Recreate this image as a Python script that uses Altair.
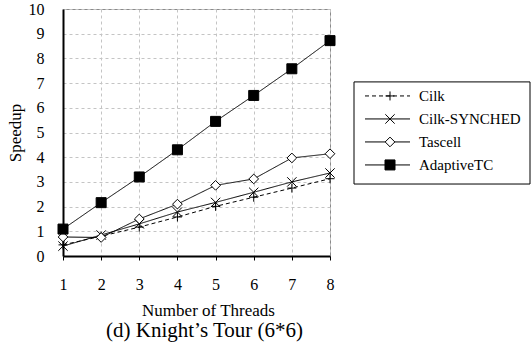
import altair as alt
import pandas as pd

# ---- data ----
threads = [1, 2, 3, 4, 5, 6, 7, 8]
series_names = ["Cilk", "Cilk-SYNCHED", "Tascell", "AdaptiveTC"]
cilk = [0.45, 0.80, 1.17, 1.58, 2.01, 2.38, 2.75, 3.13]
cilk_synched = [0.40, 0.85, 1.30, 1.78, 2.17, 2.58, 3.00, 3.36]
tascell = [0.77, 0.75, 1.50, 2.10, 2.86, 3.12, 3.97, 4.14]
adaptive_tc = [1.09, 2.16, 3.20, 4.30, 5.45, 6.50, 7.58, 8.72]
x_ticks = [1, 2, 3, 4, 5, 6, 7, 8]
y_ticks = [0, 1, 2, 3, 4, 5, 6, 7, 8, 9, 10]

FONT = "Liberation Serif"

values = [cilk, cilk_synched, tascell, adaptive_tc]
rows = []
for name, vals in zip(series_names, values):
    for t, v in zip(threads, vals):
        rows.append({"threads": t, "speedup": v, "series": name})
df = pd.DataFrame(rows)

# marker / line styles per series
shape_range = [
    "M-1,0L1,0M0,-1L0,1",        # plus
    "M-1,-1L1,1M-1,1L1,-1",      # x
    "diamond",
    "square",
]
fill_range = ["transparent", "transparent", "white", "black"]
dash_range = [[4, 3], [1, 0], [1, 0], [1, 0]]
size_range = [81, 100, 81, 144]

shape_scale = alt.Scale(domain=series_names, range=shape_range)
fill_scale = alt.Scale(domain=series_names, range=fill_range)
dash_scale = alt.Scale(domain=series_names, range=dash_range)
size_scale = alt.Scale(domain=series_names, range=size_range)

x_enc = alt.X(
    "threads:Q",
    scale=alt.Scale(domain=[1, 8], nice=False, zero=False),
    axis=alt.Axis(
        values=x_ticks, title="Number of Threads", format="d",
        labelOverlap=False, labelFlush=False,
        grid=True, gridColor="#c4c4c4", gridDash=[3, 3], gridWidth=1,
        domainColor="black", domainWidth=2,
        ticks=True, tickSize=4, tickColor="black",
        labelFont=FONT, labelFontSize=16, labelColor="black", labelPadding=16,
        titleFont=FONT, titleFontSize=17, titleFontWeight="normal", titleColor="black",
        titlePadding=10, titleX=145, titleAlign="center",
    ),
)
y_enc = alt.Y(
    "speedup:Q",
    scale=alt.Scale(domain=[0, 10], nice=False),
    axis=alt.Axis(
        values=y_ticks, title="Speedup", format="d",
        labelOverlap=False, labelFlush=False,
        grid=True, gridColor="#c4c4c4", gridDash=[3, 3], gridWidth=1,
        domainColor="black", domainWidth=2,
        ticks=False,
        labelFont=FONT, labelFontSize=16, labelColor="black", labelPadding=19,
        titleFont=FONT, titleFontSize=17, titleFontWeight="normal", titleColor="black",
        titlePadding=4,
    ),
)

lines = alt.Chart().mark_line(color="black", strokeWidth=1).encode(
    detail="series:N",
    strokeDash=alt.StrokeDash("series:N", scale=dash_scale, legend=None),
)
points = alt.Chart().mark_point(
    filled=False, stroke="black", strokeWidth=1, opacity=1
).encode(
    shape=alt.Shape("series:N", scale=shape_scale, legend=None),
    fill=alt.Fill("series:N", scale=fill_scale, legend=None),
    size=alt.Size("series:N", scale=size_scale, legend=None),
)

main = alt.layer(lines, points, data=df).encode(
    x=x_enc, y=y_enc
).properties(
    width=267,
    height=247,
    view=alt.ViewBackground(stroke="#8a8a8a", strokeWidth=1),
    title=alt.TitleParams(
        "(d) Knight\u2019s Tour (6*6)", orient="bottom", anchor="middle",
        font=FONT, fontSize=21, fontWeight="normal", color="black",
        offset=2, dx=8,
    ),
)

# ---- legend panel ----
leg_df = pd.DataFrame({
    "series": series_names,
    "row": list(range(len(series_names))),
})
leg_x0, leg_x1, leg_xm, leg_xt = 11, 56, 36, 65
leg_df["x0"] = leg_x0
leg_df["x1"] = leg_x1
leg_df["xm"] = leg_xm
leg_df["xt"] = leg_xt

LW, LH = 176, 247
box_df = pd.DataFrame({"bx0": [0], "bx1": [LW], "by0": [-0.61], "by1": [3.83]})

lx = alt.Scale(domain=[0, LW], nice=False, zero=False)
ly = alt.Scale(domain=[-3.78, -3.78 + LH / 23.0], nice=False, zero=False, reverse=True)

box = alt.Chart(box_df).mark_rect(fill="white", stroke="black", strokeWidth=1).encode(
    x=alt.X("bx0:Q", scale=lx, axis=None),
    x2="bx1:Q",
    y=alt.Y("by0:Q", scale=ly, axis=None),
    y2="by1:Q",
)
leg_lines = alt.Chart(leg_df).mark_rule(color="black", strokeWidth=1).encode(
    x=alt.X("x0:Q", scale=lx, axis=None),
    x2="x1:Q",
    y=alt.Y("row:Q", scale=ly, axis=None),
    strokeDash=alt.StrokeDash("series:N", scale=dash_scale, legend=None),
)
leg_pts = alt.Chart(leg_df).mark_point(
    filled=False, stroke="black", strokeWidth=1, opacity=1
).encode(
    x=alt.X("xm:Q", scale=lx, axis=None),
    y=alt.Y("row:Q", scale=ly, axis=None),
    shape=alt.Shape("series:N", scale=shape_scale, legend=None),
    fill=alt.Fill("series:N", scale=fill_scale, legend=None),
    size=alt.Size("series:N", scale=size_scale, legend=None),
)
leg_text = alt.Chart(leg_df).mark_text(
    align="left", baseline="middle", font=FONT, fontSize=15, color="black"
).encode(
    x=alt.X("xt:Q", scale=lx, axis=None),
    y=alt.Y("row:Q", scale=ly, axis=None),
    text="series:N",
)
legend_panel = alt.layer(box, leg_lines, leg_pts, leg_text).properties(
    width=LW, height=LH, view=alt.ViewBackground(stroke=None)
)

chart = alt.hconcat(main, legend_panel, spacing=15).resolve_scale(
    x="independent", y="independent", shape="independent",
    fill="independent", size="independent", strokeDash="independent",
).properties(
    padding={"left": 5, "top": 0, "right": 0, "bottom": 0},
    background="white",
).configure_view(stroke=None)

chart.save("out.html", embed_options={"renderer": "svg", "actions": False})
